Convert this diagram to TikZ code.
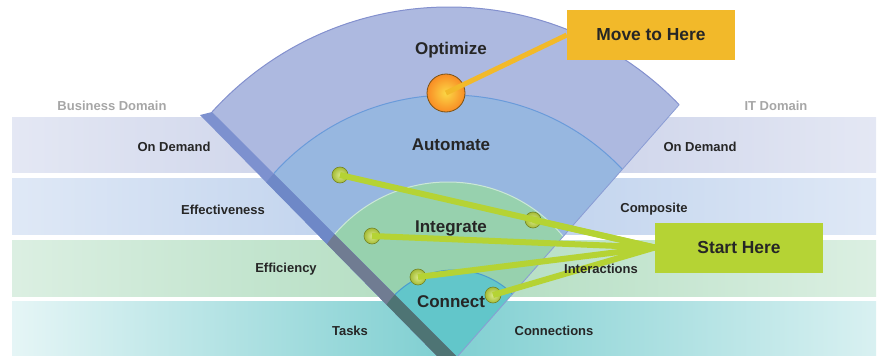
\documentclass[tikz,border=0pt]{standalone}
\usepackage{fontspec}
\setmainfont{Liberation Sans}
\usepackage{tikz}

\definecolor{bandOD}{HTML}{C3CBE6}
\definecolor{bandEF}{HTML}{B8CDEB}
\definecolor{bandEY}{HTML}{B0DCBF}
\definecolor{bandTS}{HTML}{7FCFD1}
\definecolor{optfill}{HTML}{ADB9E0}
\definecolor{autfill}{HTML}{97B7E0}
\definecolor{intfill}{HTML}{97D1AE}
\definecolor{confill}{HTML}{62C6CA}
\definecolor{optline}{HTML}{8390CE}
\definecolor{autline}{HTML}{6A9BDA}
\definecolor{conline}{HTML}{4A9CCF}
\definecolor{optside}{HTML}{7D91CF}
\definecolor{autside}{HTML}{6E88C7}
\definecolor{intside}{HTML}{707C92}
\definecolor{conside}{HTML}{4E7474}
\definecolor{movebox}{HTML}{F2B92A}
\definecolor{startbox}{HTML}{B5D334}
\definecolor{dotgreen}{HTML}{C2DC3E}
\definecolor{balloran}{HTML}{F7A52B}

\tikzset{
  lbl/.style={font=\fontsize{13}{15}\selectfont\bfseries, text=black!85},
  domainlbl/.style={font=\fontsize{13}{15}\selectfont\bfseries, text=black!35},
  ringlbl/.style={font=\fontsize{17}{20}\selectfont\bfseries, text=black!85},
  callout/.style={minimum width=168pt, minimum height=50pt, inner sep=0pt,
                  font=\fontsize{17.4}{20}\selectfont\bfseries, text=black!85},
  dot/.style={circle, minimum size=16pt, inner sep=0pt, shading=radial,
              inner color=dotgreen!60!white, outer color=dotgreen!85!black,
              draw=dotgreen!60!black, line width=0.6pt},
  link/.style={line width=6pt, startbox},
  movelink/.style={line width=5pt, movebox},
}

\begin{document}
\begin{tikzpicture}[x=1pt, y=-1pt]
        \useasboundingbox (0,0) rectangle (879,356);
        % horizontal bands
        \shade [left color=bandOD!45!white, right color=bandOD!45!white, middle color=bandOD] (12,117) rectangle (876,172); %
        \shade [left color=bandEF!45!white, right color=bandEF!45!white, middle color=bandEF] (12,178) rectangle (876,234); %
        \shade [left color=bandEY!45!white, right color=bandEY!45!white, middle color=bandEY] (12,240) rectangle (876,296); %
        \shade [left color=bandTS!20!white, right color=bandTS!30!white, middle color=bandTS] (12,301) rectangle (876,356); %

        % the fan
        \begin{scope}
          \clip (457,357) -- (57,-43) -- (812,-46) -- cycle;
          \fill [optfill]                  (449,327) circle [radius=320]; % Optimize
          \draw [optline, line width=1pt]  (449,327) circle [radius=320]; %
          \fill [autfill]                  (450,332) circle [radius=237]; % Automate
          \draw [autline, line width=1pt]  (450,332) circle [radius=237]; %
          \fill [intfill]                  (448,331) circle [radius=149]; % Integrate
          \draw [intfill!50!white, line width=1pt] (448,331) circle [radius=149]; %
          \fill [confill]                  (454,353) circle [radius=83];  % Connect
          \draw [conline, line width=1pt]  (454,353) circle [radius=83];  %
        \end{scope}
        \draw [optside!90, line width=0.8pt] (457,357) -- (679,105);     % right edge

        % left face of the fan
        \begin{scope}
          \clip (212,112) -- (459,359) -- (440,359) -- (200,115) -- cycle;
          \fill [optside]  (0,0) rectangle (879,356);                    %
          \fill [autside]  (450,332) circle [radius=237];                %
          \fill [intside]  (448,331) circle [radius=149];                %
          \fill [conside]  (454,353) circle [radius=83];                 %
        \end{scope}

        % band labels
        \node [domainlbl] (bizdom) at (112,106) {Business Domain};
        \node [domainlbl] (itdom)  at (776,106) {IT Domain};
        \node [lbl] (demandL) at (174,147) {On Demand};
        \node [lbl] (demandR) at (700,147) {On Demand};
        \node [lbl] (effect)  at (223,210) {Effectiveness};
        \node [lbl] (compo)   at (654,209) {Composite};
        \node [lbl] (effic)   at (286,269) {Efficiency};
        \node [lbl] (tasks)   at (350,331) {Tasks};
        \node [lbl] (conns)   at (554,331) {Connections};

        % ring labels
        \node [ringlbl] (optim) at (451,50)  {Optimize};
        \node [ringlbl] (autom) at (451,145) {Automate};
        \node [ringlbl] (integ) at (451,228) {Integrate};
        \node [ringlbl] (conct) at (451,302) {Connect};

        % callouts
        \node [callout, fill=movebox]  (move)  at (651,35)    {Move to Here};
        \node [callout, fill=startbox] (start) at (739,247.5) {Start Here};

        % dots and ball
        \node [circle, minimum size=38pt, inner sep=0pt, shading=radial,
               inner color=balloran!55!yellow!80!white, outer color=balloran!85!red,
               draw=balloran!50!black, line width=0.8pt] (ball) at (446,93) {};
        \node [dot] (d1) at (340,175) {};
        \node [dot] (d2) at (533,220) {};
        \node [dot] (d3) at (372,236) {};
        \node [dot] (d4) at (418,277) {};
        \node [dot] (d5) at (493,295) {};

        % links
        \draw [movelink] (ball.center) -- (move.west);                  %
        \draw [link]     (d1.center)   -- (start.west);                 %
        \draw [link]     (d2.center)   -- (start.west);                 %
        \draw [link]     (d3.center)   -- (start.west);                 %
        \draw [link]     (d4.center)   -- (start.west);                 %
        \draw [link]     (d5.center)   -- (start.west);                 %

        \node [lbl] (inter) at (601,269) {Interactions};
\end{tikzpicture}
\end{document}
